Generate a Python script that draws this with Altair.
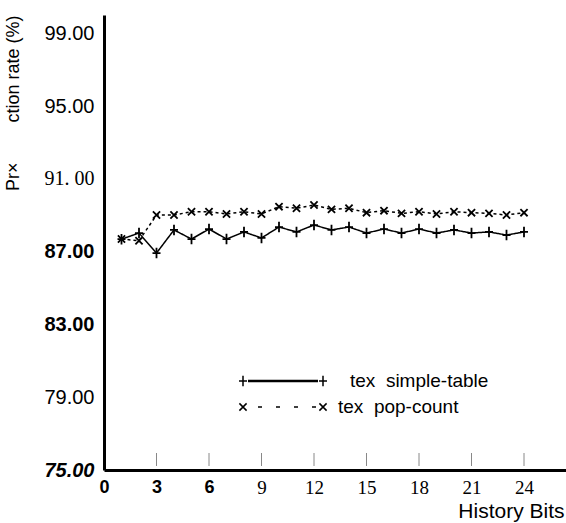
import altair as alt
import pandas as pd

# ---- data ----
history_bits = list(range(1, 25))
simple_table = [87.68, 88.02, 86.92, 88.19, 87.69, 88.24, 87.69, 88.08, 87.75, 88.35,
                88.08, 88.46, 88.19, 88.35, 88.02, 88.24, 88.02, 88.24, 88.02, 88.19,
                88.02, 88.08, 87.91, 88.08]
pop_count = [87.69, 87.60, 89.01, 89.01, 89.19, 89.19, 89.07, 89.19, 89.07, 89.47,
             89.38, 89.56, 89.32, 89.38, 89.14, 89.25, 89.10, 89.19, 89.07, 89.19,
             89.14, 89.10, 89.01, 89.14]
series_names = ["tex  simple-table", "tex  pop-count"]
y_ticks = [75, 79, 83, 87, 91, 95, 99]
x_ticks = [0, 3, 6, 9, 12, 15, 18, 21, 24]

df = pd.DataFrame({
    "bits": history_bits * 2,
    "rate": simple_table + pop_count,
    "series": [series_names[0]] * len(history_bits) + [series_names[1]] * len(history_bits),
})
tick_df = pd.DataFrame({"bits": x_ticks[1:]})

PLUS = "M-1,0L1,0M0,-1.3L0,1.3"
CROSS = "M-0.9,-0.9L0.9,0.9M-0.9,0.9L0.9,-0.9"
NB = "\u00a0"

def cond(test, a, b):
    return {"condition": {"test": test, "value": a}, "value": b}

y_axis = alt.Axis(
    values=y_ticks, grid=False, ticks=False,
    domainColor="black", domainWidth=3,
    labelExpr="datum.value == 91 ? '91. 00' : format(datum.value, '.2f')",
    labelPadding=10, labelColor="black", labelFontSize=20,
    labelFont=cond("datum.value == 91", "Liberation Serif", "Liberation Sans"),
    labelFontWeight=cond("datum.value == 75 || datum.value == 83 || datum.value == 87", "bold", "normal"),
    labelFontStyle=cond("datum.value == 75", "italic", "normal"),
    title="Pr×" + NB * 8 + "ction rate (%)",
    titleFont="Liberation Sans", titleFontSize=18, titleFontWeight="normal",
    titleColor="black", titleAngle=270, titleAlign="right", titleBaseline="alphabetic",
    titleX=-86, titleY=0,
)

x_axis = alt.Axis(
    values=x_ticks, grid=False, ticks=False, format="d",
    domainColor="black", domainWidth=3,
    labelPadding=8, labelColor="black", labelOverlap=False, labelFlush=False,
    labelFont=cond("datum.value <= 6", "Liberation Sans", "Liberation Serif"),
    labelFontWeight=cond("datum.value <= 6", "bold", "normal"),
    labelFontSize=cond("datum.value <= 6", 18, 19),
    title="History Bits",
    titleFont="Liberation Sans", titleFontSize=21, titleFontWeight="normal",
    titleColor="black", titleAnchor="end", titleAlign="right", titleBaseline="alphabetic",
    titleX=460, titleY=47,
)

x_enc = alt.X("bits:Q", scale=alt.Scale(domain=[0, 26.4], nice=False, zero=False), axis=x_axis)
y_enc = alt.Y("rate:Q", scale=alt.Scale(domain=[75, 100], nice=False, zero=False), axis=y_axis)

base = alt.Chart(df).encode(x=x_enc, y=y_enc)

lines = base.mark_line(color="black", strokeWidth=1.5).encode(
    strokeDash=alt.StrokeDash("series:N", scale=alt.Scale(domain=series_names, range=[[1, 0], [3, 3]]), legend=None),
    detail="series:N",
)
points = base.mark_point(filled=False, color="black", strokeWidth=1.8, size=64, opacity=1).encode(
    shape=alt.Shape("series:N", scale=alt.Scale(domain=series_names, range=[PLUS, CROSS]), legend=None),
)

inner_ticks = alt.Chart(tick_df).mark_rule(color="#888888", strokeWidth=1).encode(
    x=x_enc, y=alt.value(438), y2=alt.value(451)
)

# ---- manual legend ----
leg1 = pd.DataFrame({"series": [series_names[0]]})
leg2 = pd.DataFrame({"series": [series_names[1]]})
leg_line1 = alt.Chart(leg1).mark_rule(color="black", strokeWidth=2.5).encode(
    x=alt.value(144), x2=alt.value(214), y=alt.value(366))
leg_pt1a = alt.Chart(leg1).mark_point(shape=PLUS, filled=False, color="black", strokeWidth=1.5, size=64, opacity=1).encode(
    x=alt.value(139), y=alt.value(366))
leg_pt1b = alt.Chart(leg1).mark_point(shape=PLUS, filled=False, color="black", strokeWidth=1.5, size=64, opacity=1).encode(
    x=alt.value(219), y=alt.value(366))
leg_txt1 = alt.Chart(leg1).mark_text(align="left", baseline="middle", font="Liberation Sans", fontSize=19, color="black").encode(
    x=alt.value(246), y=alt.value(366), text=alt.value(series_names[0].replace(" ", NB)))

leg_line2 = alt.Chart(leg2).mark_rule(color="black", strokeWidth=1.5, strokeDash=[4, 14]).encode(
    x=alt.value(154), x2=alt.value(214), y=alt.value(392))
leg_pt2a = alt.Chart(leg2).mark_point(shape=CROSS, filled=False, color="black", strokeWidth=1.5, size=64, opacity=1).encode(
    x=alt.value(139), y=alt.value(392))
leg_pt2b = alt.Chart(leg2).mark_point(shape=CROSS, filled=False, color="black", strokeWidth=1.5, size=64, opacity=1).encode(
    x=alt.value(219), y=alt.value(392))
leg_txt2 = alt.Chart(leg2).mark_text(align="left", baseline="middle", font="Liberation Sans", fontSize=19, color="black").encode(
    x=alt.value(234), y=alt.value(392), text=alt.value(series_names[1].replace(" ", NB)))

chart = alt.layer(
    inner_ticks, lines, points,
    leg_line1, leg_pt1a, leg_pt1b, leg_txt1,
    leg_line2, leg_pt2a, leg_pt2b, leg_txt2,
).properties(
    width=462, height=455,
    autosize=alt.AutoSizeParams(type="none"),
    padding={"left": 104, "top": 15, "right": 0, "bottom": 53},
    background="white",
).configure_view(stroke=None)

chart.save("out.html", embed_options={"renderer": "svg", "actions": False})
